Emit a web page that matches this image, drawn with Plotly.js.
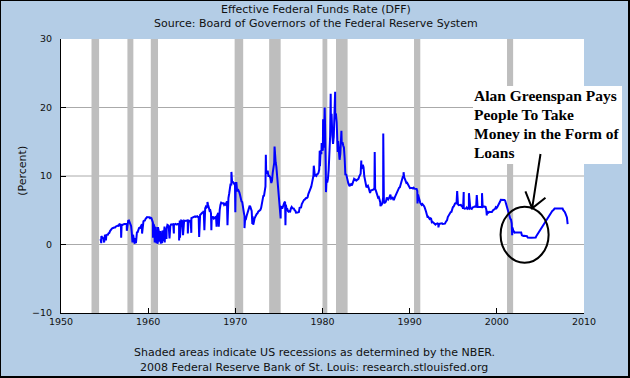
<!DOCTYPE html>
<html><head><meta charset="utf-8">
<script src="https://cdn.plot.ly/plotly-3.0.1.min.js"></script>
<style>
html,body{margin:0;padding:0;background:#b4cde6;}
#chart{width:630px;height:378px;}
#frame{position:absolute;left:0;top:0;width:630px;height:378px;box-sizing:border-box;border:1px solid #000;border-right-width:2px;border-bottom-width:2px;pointer-events:none;}
</style>
</head><body><div id="chart"></div><div id="frame"></div>
<script>
// Monthly effective federal funds rate (percent), first value = July 1954
const firstMonth = 1954 + 6/12;
const rates1954to1959 = [0.80,1.22,1.06,0.85,0.83,1.28,
 1.39,1.29,1.35,1.43,1.43,1.64,1.68,1.96,2.18,2.24,2.35,2.48,
 2.45,2.50,2.50,2.62,2.75,2.71,2.75,2.73,2.95,2.96,2.88,2.94,
 2.84,3.00,2.96,3.00,3.00,3.00,2.99,3.24,3.47,3.50,3.28,2.98,
 2.72,1.67,1.20,1.26,0.63,0.93,0.68,1.53,1.76,1.80,2.27,2.42,
 2.48,2.43,2.80,2.96,2.90,3.39,3.47,3.50,3.76,3.98,4.00,3.99];
const rates1960s = [3.99,3.97,3.84,3.92,3.85,3.32,3.23,2.98,2.60,2.47,2.44,1.98,
 1.45,2.54,2.02,1.49,1.98,1.73,1.17,2.00,1.88,2.26,2.61,2.33,
 2.15,2.37,2.85,2.78,2.36,2.68,2.71,2.93,2.90,2.90,2.94,2.93,
 2.92,3.00,2.98,2.90,3.00,2.99,3.02,3.49,3.48,3.50,3.48,3.38,
 3.48,3.48,3.43,3.47,3.50,3.50,3.42,3.50,3.45,3.36,3.52,3.85,
 3.90,3.98,4.04,4.09,4.10,4.04,4.09,4.12,4.01,4.08,4.10,4.32,
 4.42,4.60,4.65,4.67,4.90,5.17,5.30,5.53,5.40,5.53,5.76,5.40,
 4.94,5.00,4.53,4.05,3.94,3.98,3.79,3.90,3.99,3.88,4.13,4.51,
 4.61,4.71,5.05,5.76,6.11,6.07,6.02,6.03,5.78,5.91,5.82,6.02,
 6.30,6.64,6.79,7.41,8.67,8.90,8.61,9.19,9.15,9.00,8.85,8.97];
const rates1970s = [8.98,8.98,7.76,8.10,7.94,7.60,7.21,6.61,6.29,6.20,5.60,4.90,
 4.14,3.72,3.71,4.16,4.63,4.91,5.31,5.56,5.55,5.20,4.91,4.14,
 3.50,3.29,3.83,4.17,4.27,4.46,4.55,4.80,4.87,5.04,5.06,5.33,
 5.94,6.58,7.09,7.12,7.84,8.49,10.40,10.50,10.78,10.01,10.03,9.95,
 9.65,8.97,9.35,10.51,11.31,11.93,12.92,12.01,11.34,10.06,9.45,8.53,
 7.13,6.24,5.54,5.49,5.22,5.55,6.10,6.14,6.24,5.82,5.22,5.20,
 4.87,4.77,4.84,4.82,5.29,5.48,5.31,5.29,5.25,5.02,4.95,4.65,
 4.61,4.68,4.69,4.73,5.35,5.39,5.42,5.90,6.14,6.47,6.51,6.56,
 6.70,6.78,6.79,6.89,7.36,7.60,7.81,8.04,8.45,8.96,9.76,10.03,
 10.07,10.06,10.09,10.01,10.24,10.29,10.47,10.94,11.43,13.77,13.18,13.78];
const rates1980s = [13.82,14.13,17.19,17.61,10.98,9.47,9.03,9.61,10.87,12.81,15.85,18.90,
 19.08,15.93,14.70,15.72,18.52,19.10,19.04,17.82,15.87,15.08,13.31,12.37,
 13.22,14.78,14.68,14.94,14.45,14.15,12.59,10.12,10.31,9.71,9.20,8.95,
 8.68,8.51,8.77,8.80,8.63,8.98,9.37,9.56,9.45,9.48,9.34,9.47,
 9.56,9.59,9.91,10.29,10.32,11.06,11.23,11.64,11.30,9.99,9.43,8.38,
 8.35,8.50,8.58,8.27,7.97,7.53,7.88,7.90,7.92,7.99,8.05,8.27,
 8.14,7.86,7.48,6.99,6.85,6.92,6.56,6.17,5.89,5.85,6.04,6.91,
 6.43,6.10,6.13,6.37,6.85,6.73,6.58,6.73,7.22,7.29,6.69,6.77,
 6.83,6.58,6.58,6.87,7.09,7.51,7.75,8.01,8.19,8.30,8.35,8.76,
 9.12,9.36,9.85,9.84,9.81,9.53,9.24,8.99,9.02,8.84,8.55,8.45];
const rates1990s = [8.23,8.24,8.28,8.26,8.18,8.29,8.15,8.13,8.20,8.11,7.81,7.31,
 6.91,6.25,6.12,5.91,5.78,5.90,5.82,5.66,5.45,5.21,4.81,4.43,
 4.03,4.06,3.98,3.73,3.82,3.76,3.25,3.30,3.22,3.10,3.09,2.92,
 3.02,3.03,3.07,2.96,3.00,3.04,3.06,3.03,3.09,2.99,3.02,2.96,
 3.05,3.25,3.34,3.56,4.01,4.25,4.26,4.47,4.73,4.76,5.29,5.45,
 5.53,5.92,5.98,6.05,6.01,6.00,5.85,5.74,5.80,5.76,5.80,5.60,
 5.56,5.22,5.31,5.22,5.24,5.27,5.40,5.22,5.30,5.24,5.31,5.29,
 5.25,5.19,5.39,5.51,5.50,5.56,5.52,5.54,5.54,5.50,5.52,5.50,
 5.56,5.51,5.49,5.45,5.49,5.56,5.54,5.55,5.51,5.07,4.83,4.68,
 4.63,4.76,4.81,4.74,4.74,4.76,4.99,5.07,5.22,5.20,5.42,5.30];
const rates2000to2008 = [5.45,5.73,5.85,6.02,6.27,6.53,6.54,6.50,6.52,6.51,6.51,6.40,
 5.98,5.49,5.31,4.80,4.21,3.97,3.77,3.65,3.07,2.49,2.09,1.82,
 1.73,1.74,1.73,1.75,1.75,1.75,1.73,1.74,1.75,1.75,1.34,1.24,
 1.24,1.26,1.25,1.26,1.26,1.22,1.01,1.03,1.01,1.01,1.00,0.98,
 1.00,1.01,1.00,1.00,1.00,1.03,1.26,1.43,1.61,1.76,1.93,2.16,
 2.28,2.50,2.63,2.79,3.00,3.04,3.26,3.50,3.62,3.78,4.00,4.16,
 4.29,4.49,4.59,4.79,4.94,4.99,5.24,5.25,5.25,5.25,5.25,5.24,
 5.25,5.26,5.26,5.25,5.25,5.25,5.26,5.02,4.94,4.76,4.49,4.24,
 3.94,2.98];

// Daily spikes (decimal year, percent)
const spikeDates = [1954.62,1954.95,1955.15,1956.9,1957.55,1958.2,1958.45,1958.6,1959.3,
 1960.55,1960.75,1960.95,1961.1,1961.3,1961.45,1961.6,1961.75,1961.9,1962.1,1962.45,1962.95,
 1963.55,1963.65,1964.0,1964.55,1964.95,1965.85,1966.45,1966.8,1967.25,1967.85,1968.1,1969.1,
 1969.55,1970.0,1971.05,1971.95,1972.05,1973.5,1974.5,1975.2,1975.75,1979.0,1979.68,1979.9,
 1980.07,1980.25,1980.4,1980.94,1981.45,1981.75,1982.17,1984.45,1985.99,1986.65,1986.97,
 1989.3,1990.9,1992.2,1993.3,1995.45,1996.2,1996.8,1997.7,1998.3,1998.85,2001.76];
const spikeRates = [0.2,0.3,0.6,1.0,2.0,0.3,0.1,0.2,1.6,
 1.0,0.3,0.2,0.1,0.4,0.1,0.2,0.5,0.3,0.8,0.9,1.6,
 0.6,1.0,1.35,1.6,1.7,1.1,2.1,6.2,2.1,2.6,2.6,2.8,
 10.6,4.7,2.4,3.0,2.9,13.1,14.3,3.8,2.8,11.5,13.7,14.8,
 18.3,20.0,7.65,22.0,22.3,13.5,16.6,12.25,13.5,5.6,16.2,
 10.56,6.0,3.8,2.5,7.8,7.65,7.5,7.2,7.5,4.26,1.35];

const recessionStarts = [1953.5,1957.62,1960.3,1969.92,1973.88,1980.0,1981.55,1990.5,2001.17];
const recessionEnds   = [1954.37,1958.3,1961.13,1970.9,1975.2,1980.55,1982.88,1991.22,2001.87];

const xTickVals = [1950,1960,1970,1980,1990,2000,2010];
const yTickVals = [-10,0,10,20,30];
const gridValues = [0,10,20];

const noteLines = ["Alan Greenspan Pays","People To Take","Money in the Form of","Loans"];

// build series
const monthly = [].concat(rates1954to1959, rates1960s, rates1970s, rates1980s, rates1990s, rates2000to2008);
const pts = monthly.map((v,i)=>[firstMonth + (i+0.5)/12, v]);
spikeDates.forEach((d,i)=>pts.push([d, spikeRates[i]]));
pts.sort((a,b)=>a[0]-b[0]);

const trace = {
  x: pts.map(p=>p[0]), y: pts.map(p=>p[1]),
  type:'scatter', mode:'lines',
  line:{color:'#0000ff', width:2},
  hoverinfo:'skip'
};

const shapes = [];
gridValues.forEach(g=>shapes.push({type:'line', xref:'paper', x0:0, x1:1, yref:'y', y0:g, y1:g,
  line:{color:'#aaaaaa', width:1}, layer:'below'}));
recessionStarts.forEach((s,i)=>shapes.push({type:'rect', xref:'x', x0:s, x1:recessionEnds[i],
  yref:'paper', y0:0, y1:1, fillcolor:'#bebebe', line:{width:0}, layer:'between'}));
// white note box
shapes.push({type:'rect', xref:'paper', yref:'paper', x0:0.7878, x1:1.0727, y0:0.5438, y1:0.8285,
  fillcolor:'#ffffff', line:{width:0}, layer:'above'});
// hand drawn circle and arrow
shapes.push({type:'circle', xref:'x', yref:'y', x0:2000.43, x1:2005.94, y0:-2.66, y1:5.52,
  line:{color:'#000', width:2}, layer:'above'});
shapes.push({type:'path', xref:'x', yref:'y',
  path:'M2005.01,13.21 L2004.05,5.28 M2003.28,7.74 L2004.05,5.28 L2005.58,6.82',
  line:{color:'#000', width:2}, layer:'above'});

const F = 'DejaVu Sans, Verdana, sans-serif';
const annotations = [
  {text:'Effective Federal Funds Rate (DFF)', x:0.4876, y:1.1077},
  {text:'Source: Board of Governors of the Federal Reserve System', x:0.4876, y:1.0566},
  {text:'Shaded areas indicate US recessions as determined by the NBER.', x:0.4847, y:-0.1449},
  {text:'2008 Federal Reserve Bank of St. Louis: research.stlouisfed.org', x:0.4847, y:-0.1996}
].map(a=>Object.assign(a,{xref:'paper', yref:'paper', xanchor:'center', yanchor:'middle', showarrow:false,
  font:{family:F, size:11, color:'#111'}}));
annotations.push({text:'(Percent)', x:-0.0751, y:0.518, xref:'paper', yref:'paper', textangle:-90,
  xanchor:'center', yanchor:'middle', showarrow:false, font:{family:F, size:11, color:'#111'}});
const noteY = [0.7938,0.7259,0.6566,0.5872];
noteLines.forEach((t,i)=>annotations.push({text:'<b>'+t+'</b>', x:0.7883, y:noteY[i], xref:'paper', yref:'paper',
  xanchor:'left', yanchor:'middle', showarrow:false, borderpad:0,
  font:{family:'Liberation Serif, Times New Roman, serif', size:15.5, color:'#000'}}));

const layout = {
  width:630, height:378,
  margin:{l:61, r:46, t:39, b:65},
  paper_bgcolor:'#b4cde6', plot_bgcolor:'#ffffff',
  showlegend:false,
  xaxis:{range:[1950,2010], tickvals:xTickVals, ticktext:xTickVals.map(String),
    ticks:'inside', ticklen:5, tickcolor:'#000', showline:true, linecolor:'#000', linewidth:1,
    showgrid:false, zeroline:false, tickfont:{family:F, size:9.5, color:'#111'}},
  yaxis:{range:[-10,30], tickvals:yTickVals, ticktext:yTickVals.map(v=>v<0?'\u2212'+(-v):String(v)),
    ticks:'inside', ticklen:5, tickcolor:'#000', showline:true, linecolor:'#000', linewidth:1,
    showgrid:false, zeroline:false, ticklabelstandoff:6, tickfont:{family:F, size:9.5, color:'#111'}},
  shapes:shapes, annotations:annotations
};
Plotly.newPlot('chart',[trace],layout,{staticPlot:true, displayModeBar:false});
</script></body></html>
